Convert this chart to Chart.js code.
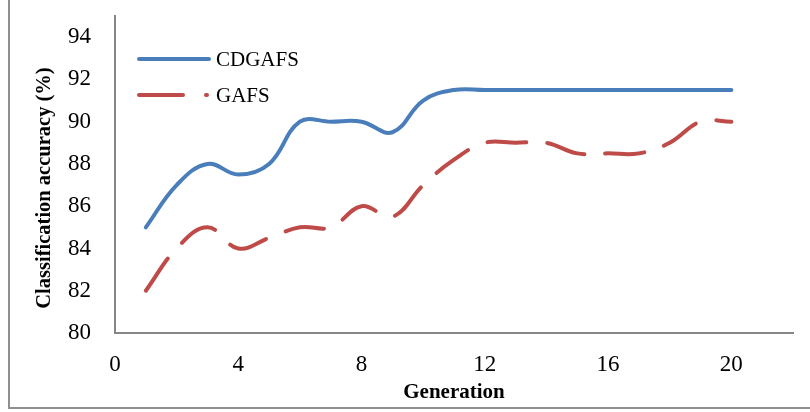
<!DOCTYPE html>
<html>
<head>
<meta charset="utf-8">
<script src="https://cdn.jsdelivr.net/npm/chart.js@4/dist/chart.umd.min.js"></script>
<style>
  html, body { margin: 0; padding: 0; background: #fff; }
  canvas { display: block; }
</style>
</head>
<body>
<canvas id="myChart" width="810" height="412"></canvas>
<script>
// chart data
const generations = [1, 2, 3, 4, 5, 6, 7, 8, 9, 10, 11, 12, 13, 14, 15, 16, 17, 18, 19, 20];
const cdgafs = [85, 87, 88, 87.5, 88, 90, 90, 90, 89.5, 91, 91.5, 91.5, 91.5, 91.5, 91.5, 91.5, 91.5, 91.5, 91.5, 91.5];
const gafs = [82, 84, 85, 84, 84.5, 85, 85, 86, 85.5, 87, 88.2, 89, 89, 89, 88.5, 88.5, 88.5, 89, 90, 90];
const seriesNames = ['CDGAFS', 'GAFS'];
const yTitle = 'Classification accuracy (%)';

const BLUE = '#4a7ebb';
const RED = '#be4b48';
const AXIS = '#868686';

function toPoints(values) {
    return generations.map((g, i) => ({ x: g, y: values[i] }));
}

// outer frame, y title and legend inside the plot
const decorPlugin = {
    id: 'decor',
    afterDraw(chart) {
        const ctx = chart.ctx;
        const area = chart.chartArea;
        ctx.save();
        // frame (left + bottom visible in the picture)
        ctx.strokeStyle = '#8f8f8f';
        ctx.lineWidth = 2;
        ctx.beginPath();
        ctx.moveTo(9, 0);
        ctx.lineTo(9, 408);
        ctx.lineTo(810, 408);
        ctx.stroke();

        // y axis title (Excel centres it a bit lower than the plot)
        ctx.save();
        ctx.translate(45, 188);
        ctx.rotate(-Math.PI / 2);
        ctx.fillStyle = '#000';
        ctx.font = 'bold 20.5px "Liberation Serif"';
        ctx.textAlign = 'center';
        ctx.textBaseline = 'middle';
        ctx.fillText(yTitle, 0, 0);
        ctx.restore();

        // legend
        const lx = area.left + 24;
        const y1 = area.top + 43;
        const y2 = area.top + 79;
        ctx.lineCap = 'round';
        ctx.lineWidth = 4;
        ctx.strokeStyle = BLUE;
        ctx.beginPath();
        ctx.moveTo(lx, y1);
        ctx.lineTo(lx + 70, y1);
        ctx.stroke();

        ctx.strokeStyle = RED;
        ctx.beginPath();
        ctx.moveTo(lx, y2);
        ctx.lineTo(lx + 44, y2);
        ctx.stroke();
        ctx.beginPath();
        ctx.moveTo(lx + 67, y2);
        ctx.lineTo(lx + 68, y2);
        ctx.stroke();

        ctx.fillStyle = '#000';
        ctx.font = '21px "Liberation Serif"';
        ctx.textBaseline = 'middle';
        ctx.textAlign = 'left';
        ctx.fillText(seriesNames[0], lx + 77, y1 + 1);
        ctx.fillText(seriesNames[1], lx + 77, y2 + 1);
        ctx.restore();
    }
};

const ctx = document.getElementById('myChart').getContext('2d');
const chart = new Chart(ctx, {
    type: 'line',
    data: {
        datasets: [{
            label: seriesNames[0],
            data: toPoints(cdgafs),
            borderColor: BLUE,
            borderWidth: 4,
            borderCapStyle: 'round',
            tension: 0.4,
            pointRadius: 0,
            fill: false
        }, {
            label: seriesNames[1],
            data: toPoints(gafs),
            borderColor: RED,
            borderWidth: 4,
            borderCapStyle: 'round',
            borderDash: [39, 21],
            tension: 0.4,
            pointRadius: 0,
            fill: false
        }]
    },
    options: {
        responsive: false,
        animation: false,
        layout: { padding: { left: 0, right: 17, top: 16, bottom: 0 } },
        plugins: {
            legend: { display: false },
            tooltip: { enabled: false }
        },
        scales: {
            x: {
                type: 'linear',
                min: 0,
                max: 22,
                grid: { display: false, drawTicks: false },
                border: { display: true, color: AXIS, width: 2 },
                ticks: {
                    stepSize: 4,
                    includeBounds: false,
                    padding: 18,
                    color: '#000',
                    font: { family: 'Liberation Serif', size: 23 }
                },
                title: {
                    display: true,
                    text: 'Generation',
                    color: '#000',
                    padding: { top: 0, bottom: 7 },
                    font: { family: 'Liberation Serif', size: 21, weight: 'bold' }
                },
                afterFit(scale) {
                    scale.height = 412 - 333;
                    scale.paddingLeft = 0;
                    scale.paddingRight = 0;
                }
            },
            y: {
                min: 80,
                max: 95,
                grid: { display: false, drawTicks: false },
                border: { display: true, color: AXIS, width: 2 },
                ticks: {
                    stepSize: 2,
                    includeBounds: false,
                    padding: 24,
                    color: '#000',
                    font: { family: 'Liberation Serif', size: 23 }
                },
                afterFit(scale) {
                    scale.width = 115;
                    scale.paddingTop = 0;
                    scale.paddingBottom = 0;
                }
            }
        }
    },
    plugins: [decorPlugin]
});
</script>
</body>
</html>
